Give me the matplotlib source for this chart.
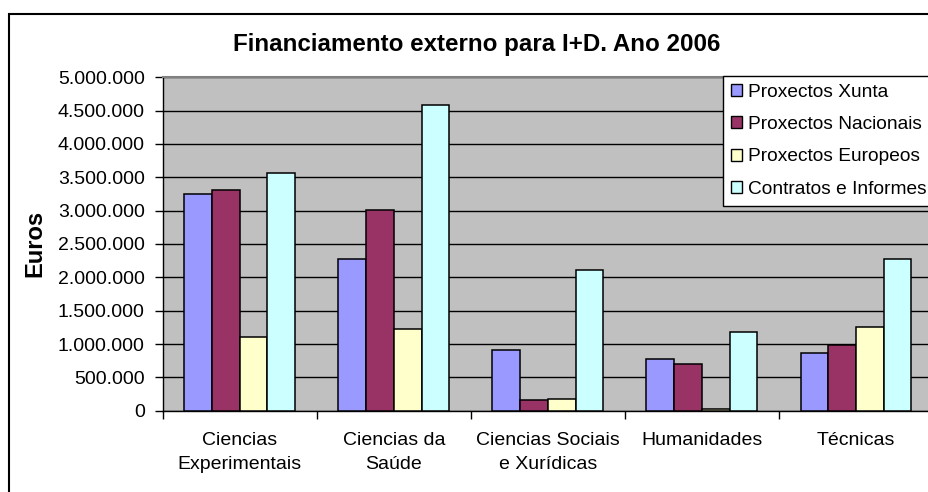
import matplotlib
matplotlib.use("Agg")
import matplotlib.pyplot as plt
from matplotlib.patches import Rectangle
from matplotlib.ticker import FixedLocator, FuncFormatter
import numpy as np

plt.rcParams['font.family'] = ['Liberation Sans', 'DejaVu Sans']

categories = ["Ciencias\nExperimentais", "Ciencias da\nSaúde", "Ciencias Sociais\ne Xurídicas",
              "Humanidades", "Técnicas"]
series_names = ["Proxectos Xunta", "Proxectos Nacionais", "Proxectos Europeos", "Contratos e Informes"]
xunta = [3245000, 2270000, 906000, 771000, 861000]
nacionais = [3314000, 3015000, 156000, 705000, 981000]
europeos = [1110000, 1220000, 175000, 25000, 1250000]
contratos = [3560000, 4590000, 2110000, 1180000, 2270000]
colors = ["#9999FF", "#993366", "#FFFFCC", "#CCFFFF"]
yticks = [0, 500000, 1000000, 1500000, 2000000, 2500000, 3000000, 3500000, 4000000, 4500000, 5000000]

W, H = 929, 492
fig = plt.figure(figsize=(W / 100, H / 100), dpi=100)
fig.patch.set_facecolor("white")

# chart area border
fig.add_artist(Rectangle((9.3 / W, -0.5), 2.0, 1.5 - 14 / H, transform=fig.transFigure,
                         fill=False, edgecolor="black", lw=1.5, zorder=0))

left, right = 162.7 / W, 933 / W
bottom, top = 1 - 410.7 / H, 1 - 77.3 / H
ax = fig.add_axes([left, bottom, right - left, top - bottom])
ax.set_facecolor("#C0C0C0")

x = np.arange(len(categories))
w = 0.18
all_series = [xunta, nacionais, europeos, contratos]
for j, (vals, name, c) in enumerate(zip(all_series, series_names, colors)):
    ax.bar(x + (j - 1.5) * w, vals, width=w, color=c, edgecolor="black", linewidth=1.1,
           label=name, zorder=3)

ax.set_xlim(-0.5, len(categories) - 0.5)
ax.set_ylim(0, 5000000)
ax.set_yticks(yticks)
ax.yaxis.set_major_formatter(FuncFormatter(lambda v, p: f"{int(v):,}".replace(",", ".")))
ax.yaxis.grid(True, color="black", linewidth=1.0, zorder=1)
ax.set_axisbelow(True)

ax.set_xticks(x)
ax.set_xticklabels(categories, fontsize=14, linespacing=1.55)
ax.xaxis.set_minor_locator(FixedLocator(np.arange(len(categories) + 1) - 0.5))
ax.tick_params(axis="x", which="major", length=0, pad=15)
ax.tick_params(axis="x", which="minor", length=6, width=1, direction="out", color="black")
ax.tick_params(axis="y", which="major", length=6, width=1, direction="out", pad=7,
               labelsize=14, color="black")

for s in ["left", "bottom"]:
    ax.spines[s].set_color("black")
    ax.spines[s].set_linewidth(1.0)
ax.spines["top"].set_color("#808080")
ax.spines["top"].set_linewidth(1.5)
ax.spines["right"].set_visible(False)

fig.text(477 / W, 1 - 45 / H, "Financiamento externo para I+D. Ano 2006",
         ha="center", va="center", fontsize=17.4, fontweight="bold")
fig.text(34.5 / W, 1 - 243 / H, "Euros", rotation=90, ha="center", va="center",
         fontsize=17, fontweight="bold")

leg = fig.legend(loc="upper left", bbox_to_anchor=(723.3 / W, 1 - 75.7 / H),
                 bbox_transform=fig.transFigure, fontsize=13.8, frameon=True, fancybox=False,
                 shadow=False, handlelength=0.58, handleheight=0.58, handletextpad=0.28,
                 labelspacing=0.8, borderpad=0.42, borderaxespad=0, framealpha=1)
leg.get_frame().set_edgecolor("black")
leg.get_frame().set_linewidth(1.0)
for p in leg.get_patches():
    p.set_linewidth(1.0)

fig.savefig("out.png", dpi=100, facecolor="white")
